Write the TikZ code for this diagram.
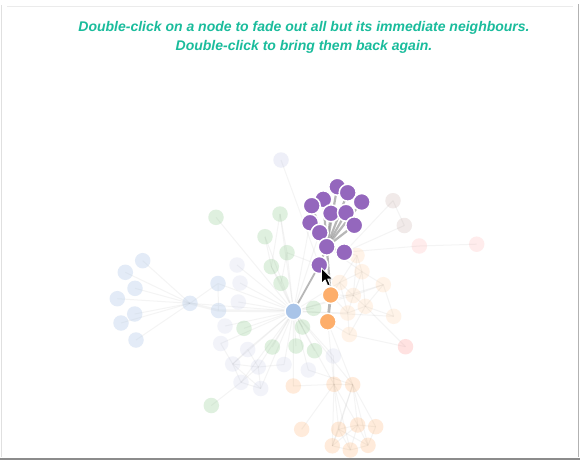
\documentclass[tikz,border=0pt]{standalone}
\usepackage{fontspec}
\setmainfont{Liberation Sans}
\definecolor{titleC}{HTML}{1ABC9C}
\definecolor{purC}{HTML}{9467BD}
\definecolor{oraC}{HTML}{FDAE6B}
\definecolor{bluC}{HTML}{A9C4E8}
\definecolor{cGreen}{HTML}{2CA02C}
\definecolor{cBlue}{HTML}{AEC7E8}
\definecolor{cLav}{HTML}{AAB2DD}
\definecolor{cOra}{HTML}{FF7F0E}
\definecolor{cLOra}{HTML}{FFBB78}
\definecolor{cBrown}{HTML}{8C564B}
\definecolor{cPink}{HTML}{FF9896}
\definecolor{edgeC}{HTML}{999999}
\pgfdeclarelayer{back}
\pgfdeclarelayer{bg}
\pgfsetlayers{back,bg,main}
\tikzset{
  nd/.style={circle, minimum size=17pt, inner sep=0pt, draw=white, line width=1.5pt},
  fd/.style={circle, minimum size=15.5pt, inner sep=0pt, draw=none},
  pur/.style={nd, fill=purC},
  ora/.style={nd, fill=oraC},
  blu/.style={nd, fill=bluC},
  fg/.style={fd, fill=cGreen, fill opacity=0.15},
  fb/.style={fd, fill=cBlue, fill opacity=0.34},
  fl/.style={fd, fill=cLav, fill opacity=0.15},
  ft/.style={fd, fill=cLav, fill opacity=0.2},
  fp/.style={fd, fill=cOra, fill opacity=0.15},
  fo/.style={fd, fill=cLOra, fill opacity=0.17},
  fn/.style={fd, fill=cBrown, fill opacity=0.12},
  fk/.style={fd, fill=cPink, fill opacity=0.18},
  fk2/.style={fd, fill=cPink, fill opacity=0.28},
  faint/.style={draw=edgeC, draw opacity=0.1, line width=1pt},
  faintT/.style={draw=edgeC, draw opacity=0.1, line width=2.4pt},
  hl/.style={draw=edgeC, draw opacity=0.7, line width=2.2pt},
  titletext/.style={font=\bfseries\itshape\fontsize{14}{17}\selectfont, text=titleC, inner sep=0pt, anchor=base}
}
\begin{document}
\begin{tikzpicture}[x=1pt,y=-1pt]
\useasboundingbox (0,0) rectangle (580,461);
\begin{pgfonlayer}{back}
\fill[white] (0,0) rectangle (580,461);
\end{pgfonlayer}
% window frame
\draw[color=black!8, line width=0.8pt] (7,6) -- (573,6);
\draw[color=black!12, line width=1pt] (1.5,5) -- (1.5,457);
\draw[color=black!30, line width=1pt] (578,4) -- (578,457);
\draw[color=black!45, line width=2pt] (0,458.5) -- (580,458.5);

% title
\node[titletext] (t1txt) at (304,31.5) {Double-click on a node to fade out all but its immediate neighbours.};
\node[titletext] (t2txt) at (304,50) {Double-click to bring them back again.};

% faded nodes
\node[ft] (t1) at (281,160) {};
\node[fg] (g1) at (216,217.3) {};
\node[fg] (g2) at (280,214) {};
\node[fg] (g3) at (265,236.7) {};
\node[fg] (g4) at (287,252.7) {};
\node[fg] (g5) at (271.3,266.7) {};
\node[fg] (g6) at (281,283.3) {};
\node[fg] (g7) at (313.7,308.3) {};
\node[fg] (g8) at (244,328.3) {};
\node[fg] (g9) at (302.5,327) {};
\node[fg] (g10) at (272.3,347) {};
\node[fg] (g11) at (296,346) {};
\node[fg] (g12) at (314.5,350.7) {};
\node[fg] (g13) at (211.3,405.5) {};
\node[fb] (h) at (190,303.3) {};
\node[fb] (b1) at (218,283.5) {};
\node[fb] (b2) at (218.5,310.5) {};
\node[fb] (l1) at (142.7,260.7) {};
\node[fb] (l2) at (125.3,272.3) {};
\node[fb] (l3) at (135,288.3) {};
\node[fb] (l4) at (117.3,298.7) {};
\node[fb] (l5) at (134.7,314) {};
\node[fb] (l6) at (121,323) {};
\node[fb] (l7) at (136,340) {};
\node[fl] (f1) at (237,265) {};
\node[fl] (f2) at (240,283) {};
\node[fl] (f3) at (238.3,302) {};
\node[fl] (f4) at (225,326) {};
\node[fl] (f5) at (220.7,343.5) {};
\node[fl] (f6) at (247.7,349.5) {};
\node[fl] (f7) at (232.7,364) {};
\node[fl] (f8) at (258.3,367) {};
\node[fl] (f9) at (284,364.5) {};
\node[fl] (f10) at (308.3,370) {};
\node[fl] (f11) at (241,382.3) {};
\node[fl] (f12) at (260.7,388.5) {};
\node[fl] (f13) at (333.3,356) {};
\node[fo] (r1) at (357,255.5) {};
\node[fo] (r2) at (362,271.7) {};
\node[fo] (r3) at (339.7,282.5) {};
\node[fo] (r4) at (383.3,284.7) {};
\node[fo] (r5) at (353.3,295.5) {};
\node[fo] (r6) at (365.3,306.3) {};
\node[fo] (r7) at (347.7,313) {};
\node[fo] (r8) at (393.7,316.3) {};
\node[fo] (r9) at (349.3,334.5) {};
\node[fn] (n1) at (393,200.7) {};
\node[fn] (n2) at (404.3,225.5) {};
\node[fk] (k1) at (419.3,246) {};
\node[fk] (k2) at (476.7,244.2) {};
\node[fk2] (k3) at (405.5,346.7) {};
\node[fp] (c1) at (293.3,386) {};
\node[fp] (c2) at (334,384.3) {};
\node[fp] (c3) at (352.7,384.7) {};
\node[fp] (c4) at (301.7,429.3) {};
\node[fp] (c5) at (338.7,429.3) {};
\node[fp] (c6) at (357.7,425) {};
\node[fp] (c7) at (375.7,426.7) {};
\node[fp] (c8) at (332.3,445.8) {};
\node[fp] (c9) at (350.3,450) {};
\node[fp] (c10) at (368,445.3) {};

% bright nodes
\node[blu] (v) at (293.5,311.3) {};
\node[ora] (o1) at (330.7,295) {};
\node[ora] (o2) at (327.7,321.7) {};
\node[pur] (p1) at (337.3,186.7) {};
\node[pur] (p2) at (347.7,192.7) {};
\node[pur] (p3) at (361.7,202) {};
\node[pur] (p4) at (323.3,199.3) {};
\node[pur] (p5) at (311.7,205.7) {};
\node[pur] (p6) at (331,213.3) {};
\node[pur] (p7) at (346,212.7) {};
\node[pur] (p8) at (310,222.7) {};
\node[pur] (p9) at (354.3,225.3) {};
\node[pur] (p10) at (319.7,232.7) {};
\node[pur] (p11) at (326.7,246.7) {};
\node[pur] (p12) at (344.3,252.3) {};
\node[pur] (p13) at (319.3,265) {};

\begin{pgfonlayer}{bg}
% faint edges
\foreach \a in {l1,l2,l3,l4,l5,l6,l7} \draw[faint] (h.center) -- (\a.center);
\draw[faintT] (h.center) -- (b2.center) -- (v.center);
\draw[faint] (h.center) -- (b1.center) (b1.center) -- (b2.center) (b1.center) -- (v.center) (h.center) -- (v.center);
\draw[faint] (t1.center) -- (p13.center);
\foreach \a in {g1,g2,g3,g4,g5,g6,g7,g8,g9,g10,g11,g12,f1,f2,f3,f4,f5,f6,f7,f8,f9,f10,f11,f12,f13,c1,c2,c3,r3,r4,r5,r7,r8,p8,p10}
  \draw[faint] (v.center) -- (\a.center);
\foreach \a/\b in {g2/g4,g3/g5,g4/g6,g5/g6,g2/g5,g4/p13,f7/f8,f7/f11,f7/f12,f8/f11,f8/f12,f11/f12,f6/f7,f6/f8,f8/f9,f5/f7,g13/f11,c1/c2,c2/c3,c4/c2,f10/c3}
  \draw[faint] (\a.center) -- (\b.center);
\foreach \a/\b in {c2/c5,c2/c6,c2/c8,c2/c9,c3/c5,c3/c6,c3/c7,c3/c10,c3/c8,c5/c6,c5/c8,c5/c9,c6/c7,c6/c9,c6/c10,c7/c10,c8/c9,c9/c10,c5/c10,c6/c8,o2/c2,o2/c3,f13/c2}
  \draw[faint] (\a.center) -- (\b.center);
\foreach \a/\b in {r1/r2,r1/r3,r2/r3,r2/r4,r3/r5,r2/r5,r4/r5,r5/r6,r5/r7,r6/r7,r6/r8,r7/r9,r4/r8,r3/r7,r1/p11,r2/p11,r3/o1,r5/o1,r7/o1,r9/o2,r2/r6,r1/r5,r9/r6,r4/r6}
  \draw[faint] (\a.center) -- (\b.center);
\foreach \a/\b in {k1/k2,k1/p12,n1/n2,n1/p12,n2/p12,k3/r6,k3/r9}
  \draw[faint] (\a.center) -- (\b.center);
% highlighted edges
\foreach \a in {p1,p2,p3,p4,p5,p6,p7,p8,p9,p10,p12,p13}
  \draw[hl] (p11.center) -- (\a.center);
\draw[hl] (p11.center) -- (o1.center);
\draw[hl, line width=2.8pt] (o1.center) -- (o2.center);
\draw[hl, line width=1.8pt] (v.center) -- (p13.center);
\end{pgfonlayer}

% mouse cursor
\draw[fill=black, draw=white, line width=0.9pt, line join=round]
  (321.5,268) -- ++(0,15.5) -- ++(3.6,-3.6) -- ++(2.6,6) -- ++(2.6,-1.1)
  -- ++(-2.6,-5.8) -- ++(5,0) -- cycle;
\end{tikzpicture}
\end{document}
